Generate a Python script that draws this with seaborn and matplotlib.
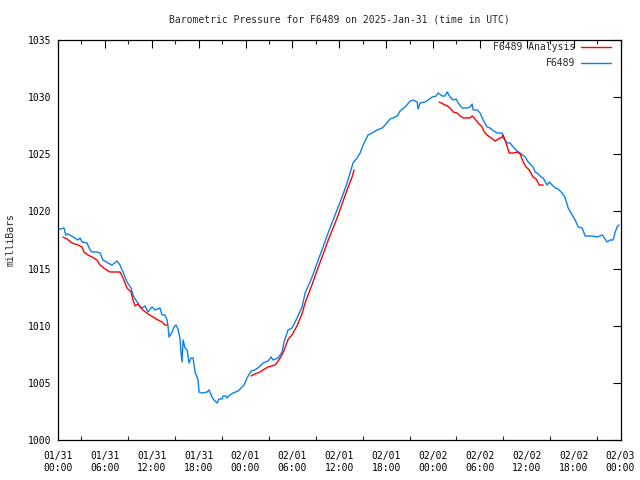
import numpy as np
import pandas as pd
import matplotlib
matplotlib.use("Agg")
import matplotlib.pyplot as plt
from matplotlib.lines import Line2D
import seaborn as sns

# === DATA (hours since 2025-01-31 00:00 UTC, pressure in mb) ===
station_hours = [
    0.0, 0.26, 0.77, 0.99, 1.28, 1.92, 2.56, 2.82, 3.07, 3.71, 4.10, 4.35, 4.99, 5.38,
    5.76, 6.40, 6.91, 7.55, 7.94, 8.32, 8.83, 9.35, 9.60, 9.86, 10.24, 10.50, 10.76,
    11.14, 11.52, 12.04, 12.42, 13.06, 13.32, 13.70, 13.96, 14.08, 14.21, 14.60, 14.85,
    15.11, 15.36, 15.62, 15.75, 15.88, 16.01, 16.26, 16.52, 16.77, 17.03, 17.29, 17.54,
    17.93, 18.05, 18.44, 19.08, 19.33, 19.72, 19.97, 20.36, 20.61, 21.00, 21.13, 21.51,
    21.64, 22.02, 22.41, 23.05, 23.43, 23.82, 24.20, 24.71, 25.22, 25.74, 26.25, 26.89,
    27.27, 27.53, 28.17, 28.68, 28.94, 29.45, 29.96, 30.60, 31.24, 31.63, 32.52, 33.16,
    33.93, 34.57, 35.21, 35.72, 36.36, 37.00, 37.77, 38.28, 38.67, 39.05, 39.69, 40.20,
    40.85, 41.49, 41.87, 42.51, 42.89, 43.41, 43.79, 44.43, 45.07, 45.45, 45.97, 46.09,
    46.35, 46.99, 47.38, 47.89, 48.40, 48.66, 49.17, 49.55, 49.81, 50.19, 50.58, 50.96,
    51.22, 51.73, 52.37, 52.75, 53.01, 53.14, 53.65, 54.03, 54.42, 54.93, 55.31, 55.57,
    56.21, 56.85, 56.98, 57.49, 57.87, 58.26, 58.77, 59.15, 59.80, 60.18, 60.82, 61.08,
    61.46, 61.84, 62.10, 62.61, 62.87, 63.25, 63.64, 64.02, 64.53, 64.92, 65.30, 65.81,
    66.20, 66.58, 67.09, 67.48, 68.37, 69.01, 69.65, 70.04, 70.29, 70.68, 71.06, 71.32,
    71.57, 71.83,
]
station_mb = [
    1018.46, 1018.46, 1018.55, 1017.94, 1018.03, 1017.76, 1017.50, 1017.68, 1017.33,
    1017.24, 1016.63, 1016.45, 1016.45, 1016.36, 1015.75, 1015.49, 1015.31, 1015.66,
    1015.31, 1014.70, 1013.83, 1013.30, 1012.69, 1012.34, 1011.99, 1011.64, 1011.55,
    1011.73, 1011.20, 1011.64, 1011.38, 1011.55, 1010.94, 1010.94, 1010.50, 1009.98,
    1009.01, 1009.45, 1009.89, 1010.06, 1009.71, 1008.84, 1007.61, 1006.83, 1008.75,
    1008.05, 1007.88, 1006.74, 1007.18, 1007.18, 1005.95, 1005.25, 1004.20, 1004.11,
    1004.20, 1004.38, 1003.76, 1003.50, 1003.24, 1003.59, 1003.59, 1003.85, 1003.85,
    1003.68, 1003.94, 1004.11, 1004.29, 1004.55, 1004.81, 1005.43, 1006.04, 1006.13,
    1006.39, 1006.74, 1006.91, 1007.26, 1007.00, 1007.18, 1007.70, 1008.58, 1009.63,
    1009.80, 1010.68, 1011.64, 1012.86, 1014.26, 1015.49, 1016.89, 1018.11, 1019.25,
    1020.13, 1021.26, 1022.49, 1024.24, 1024.68, 1025.11, 1025.81, 1026.69, 1026.86,
    1027.13, 1027.30, 1027.56, 1028.09, 1028.18, 1028.35, 1028.79, 1029.14, 1029.66,
    1029.75, 1029.58, 1028.96, 1029.49, 1029.58, 1029.75, 1030.01, 1030.10, 1030.36,
    1030.10, 1030.10, 1030.45, 1030.01, 1029.75, 1029.84, 1029.49, 1029.05, 1029.05,
    1029.14, 1029.40, 1028.88, 1028.88, 1028.61, 1028.00, 1027.39, 1027.30, 1027.13,
    1026.86, 1026.86, 1026.43, 1025.99, 1025.99, 1025.64, 1025.29, 1025.11, 1024.76,
    1024.33, 1023.89, 1023.45, 1023.28, 1023.01, 1022.93, 1022.31, 1022.58, 1022.31,
    1022.05, 1021.96, 1021.61, 1021.18, 1020.30, 1019.69, 1019.25, 1018.64, 1018.55,
    1017.85, 1017.85, 1017.76, 1017.94, 1017.59, 1017.33, 1017.50, 1017.50, 1018.20,
    1018.64, 1018.81,
]

# analysis comes in three separate runs
analysis1_hours = [0.64, 1.15, 1.79, 2.18, 2.56, 3.07, 3.33, 3.84, 4.35, 4.99, 5.38, 6.02,
                   6.66, 7.94, 8.32, 8.83, 9.35, 9.60, 9.86, 10.24, 10.63, 11.01, 11.52,
                   12.16, 12.80, 13.32, 13.70, 13.96]
analysis1_mb = [1017.76, 1017.59, 1017.24, 1017.15, 1017.06, 1016.89, 1016.45, 1016.19,
                1016.01, 1015.75, 1015.31, 1014.96, 1014.70, 1014.70, 1014.18, 1013.30,
                1012.95, 1012.25, 1011.73, 1011.90, 1011.55, 1011.29, 1011.03, 1010.76,
                1010.50, 1010.33, 1010.06, 1010.06]
analysis2_hours = [24.71, 25.22, 25.86, 26.25, 26.89, 27.78, 28.17, 28.55, 28.94, 29.45,
                   29.96, 30.60, 31.24, 31.63, 32.52, 33.16, 33.93, 34.57, 35.21, 35.72,
                   36.36, 37.00, 37.64, 37.90]
analysis2_mb = [1005.60, 1005.78, 1005.95, 1006.13, 1006.39, 1006.56, 1006.90, 1007.30,
                1007.85, 1008.80, 1009.20, 1010.00, 1011.05, 1012.00, 1013.60, 1014.85,
                1016.25, 1017.45, 1018.55, 1019.43, 1020.65, 1021.88, 1023.01, 1023.63]
analysis3_hours = [48.78, 49.30, 49.81, 50.19, 50.58, 51.09, 51.47, 51.86, 52.75, 53.01,
                   53.27, 53.78, 54.29, 54.55, 54.93, 55.44, 55.95, 56.34, 56.85, 56.98,
                   57.36, 57.75, 58.26, 58.77, 59.15, 59.54, 59.92, 60.31, 60.82, 61.20,
                   61.59, 62.10]
analysis3_mb = [1029.58, 1029.40, 1029.23, 1029.05, 1028.70, 1028.61, 1028.35, 1028.18,
                1028.18, 1028.35, 1028.18, 1027.74, 1027.39, 1026.95, 1026.69, 1026.43,
                1026.16, 1026.34, 1026.51, 1026.69, 1025.99, 1025.11, 1025.11, 1025.20,
                1025.03, 1024.33, 1023.89, 1023.63, 1023.01, 1022.84, 1022.31, 1022.31]

tick_hours = list(range(0, 73, 6))
tick_labels = ["01/31\n00:00", "01/31\n06:00", "01/31\n12:00", "01/31\n18:00",
               "02/01\n00:00", "02/01\n06:00", "02/01\n12:00", "02/01\n18:00",
               "02/02\n00:00", "02/02\n06:00", "02/02\n12:00", "02/02\n18:00",
               "02/03\n00:00"]

BLUE = "#0a80f0"
RED = "#ff0000"

sns.set_style("white")
plt.rcParams["font.family"] = ["DejaVu Sans Mono"]
plt.rcParams["font.size"] = 7

station = pd.DataFrame({"hour": station_hours, "mb": station_mb})
analysis = pd.concat([
    pd.DataFrame({"hour": h, "mb": m, "run": i})
    for i, (h, m) in enumerate([(analysis1_hours, analysis1_mb),
                                (analysis2_hours, analysis2_mb),
                                (analysis3_hours, analysis3_mb)])
])

fig = plt.figure(figsize=(6.4, 4.8), dpi=100)
ax = fig.add_axes([58 / 640, 40 / 480, 562.5 / 640, 400 / 480])

sns.lineplot(data=station, x="hour", y="mb", color=BLUE, lw=1.0, ax=ax,
             estimator=None, sort=False)
sns.lineplot(data=analysis, x="hour", y="mb", units="run", color=RED, lw=1.0,
             ax=ax, estimator=None, sort=False)

ax.set_xlim(0, 72)
ax.set_ylim(1000, 1035)
ax.set_xticks(tick_hours)
ax.set_xticklabels(tick_labels)
ax.set_xticks(np.arange(3, 72, 6), minor=True)
ax.set_yticks(range(1000, 1036, 5))
ax.tick_params(axis="both", which="major", direction="in", length=6, width=0.8,
               top=True, right=True, labelsize=7, colors="black")
ax.tick_params(axis="x", which="major", pad=8)
ax.tick_params(axis="y", which="major", pad=5)
ax.tick_params(axis="x", which="minor", direction="in", length=3, width=0.8,
               top=True, bottom=True)
for s in ax.spines.values():
    s.set_color("black")
    s.set_linewidth(0.9)

ax.set_xlabel("")
ax.set_ylabel("milliBars", fontsize=7)
ax.yaxis.set_label_coords(-42 / 562.5, 0.5)

fig.text(339 / 640, 1 - 19 / 480,
         "Barometric Pressure for F6489 on 2025-Jan-31 (time in UTC)",
         ha="center", va="center", fontsize=7)

# gnuplot-style key: right-justified text, sample line after it
for i, (name, col) in enumerate([("F6489 Analysis", RED), ("F6489", BLUE)]):
    yy = 1 - (7.5 + 15.5 * i) / 400
    ax.text(1 - 45 / 562.5, yy, name, transform=ax.transAxes, ha="right",
            va="center", fontsize=7)
    ax.add_line(Line2D([1 - 40 / 562.5, 1 - 10 / 562.5], [yy, yy],
                       transform=ax.transAxes, color=col, lw=1.0))

if ax.get_legend() is not None:
    ax.get_legend().remove()

fig.savefig("out.png", dpi=100)
